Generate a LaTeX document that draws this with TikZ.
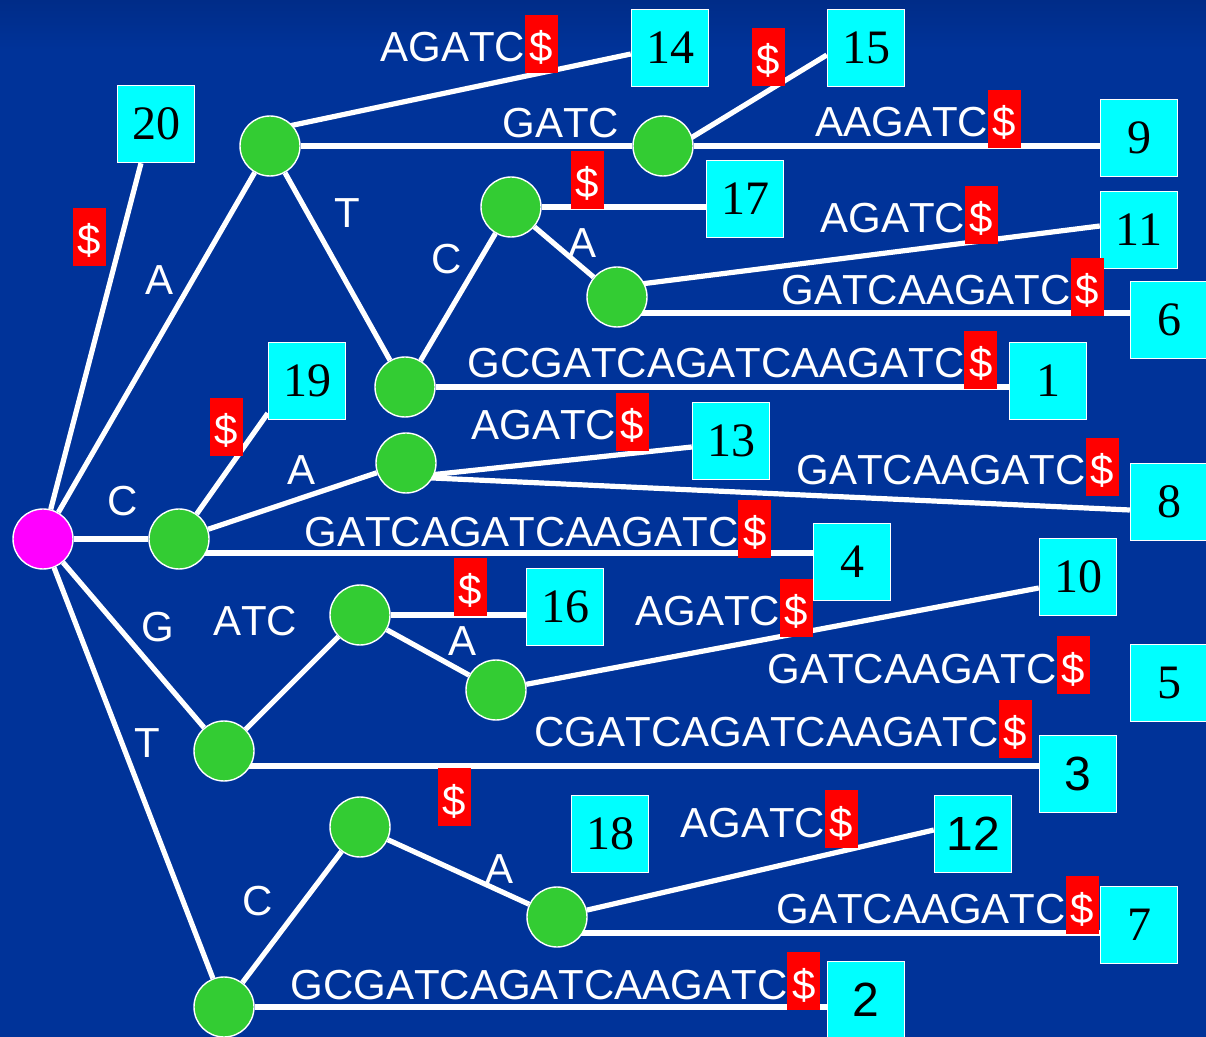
\documentclass[tikz,border=0pt]{standalone}
\usepackage{fontspec}
\newfontfamily\sansf[Kerning=Off]{Liberation Sans}
\newfontfamily\serff{Liberation Serif}
\usetikzlibrary{calc}
\definecolor{bgblue}{HTML}{003399}
\definecolor{bgtop}{HTML}{002C88}
\definecolor{nodegreen}{HTML}{33CC33}
\definecolor{rootpink}{HTML}{FF00FF}
\definecolor{leafcyan}{HTML}{00FFFF}
\definecolor{dolred}{HTML}{FF0000}
\pgfdeclarelayer{back}
\pgfdeclarelayer{edges}
\pgfsetlayers{back,edges,main}
% terminal symbol: white dollar on a red block
\newcommand\dol{{\setlength\fboxsep{0pt}\colorbox{dolred}{\makebox[16.5pt]{\rule[-5.5pt]{0pt}{29pt}\$}}}}

\begin{document}
\begin{tikzpicture}[x=0.5pt,y=-0.5pt,
  inner/.style={circle, fill=nodegreen, draw=white, line width=0.7pt, minimum size=30pt, inner sep=0pt},
  rootnode/.style={inner, fill=rootpink},
  leaf/.style={rectangle, fill=leafcyan, draw=white, line width=0.7pt, minimum size=38.5pt, inner sep=0pt, text=black, font=\serff\fontsize{24pt}{28pt}\selectfont},
  leafsans/.style={leaf, font=\sansf\fontsize{24pt}{28pt}\selectfont},
  lbl/.style={text=white, inner sep=0pt, font=\sansf\fontsize{21pt}{25pt}\selectfont},
  seq/.style={lbl, anchor=base west},
  letter/.style={lbl, anchor=base},
  edge/.style={draw=white, line width=2.6pt},
]
\useasboundingbox (0,0) rectangle (1206,1037);

\begin{pgfonlayer}{back}
  \fill[bgblue] (0,0) rectangle (1206,1037);
  \shade[top color=bgtop, bottom color=bgblue] (0,0) rectangle (1206,50);
\end{pgfonlayer}

% root and internal nodes
\node[rootnode] (r) at (43,539) {};
\node[inner] (nA)    at (270,146) {};
\node[inner] (nAG)   at (663,146) {};
\node[inner] (nAT)   at (405,387) {};
\node[inner] (nATC)  at (511,207) {};
\node[inner] (nATCA) at (617,297) {};
\node[inner] (nC)    at (179,539) {};
\node[inner] (nCA)   at (406,463) {};
\node[inner] (nG)    at (224,751) {};
\node[inner] (nGA)   at (360,615) {};
\node[inner] (nGAA)  at (496,690) {};
\node[inner] (nT)    at (224,1007) {};
\node[inner] (nTC)   at (360,827) {};
\node[inner] (nTCA)  at (557,917) {};

% leaves with suffix start positions
\node[leaf] (b20) at (156,124) {20};
\node[leaf] (b14) at (670,48) {14};
\node[leaf] (b15) at (866,48) {15};
\node[leaf] (b9)  at (1139,138) {9};
\node[leaf] (b17) at (745,199) {17};
\node[leaf] (b11) at (1139,230) {11};
\node[leaf] (b6)  at (1169,320) {6};
\node[leaf] (b1)  at (1048,381) {1};
\node[leaf] (b19) at (307,381) {19};
\node[leaf] (b13) at (731,441) {13};
\node[leaf] (b8)  at (1169,502) {8};
\node[leaf] (b4)  at (852,562) {4};
\node[leaf] (b10) at (1078,577) {10};
\node[leaf] (b16) at (565,607) {16};
\node[leaf] (b5)  at (1169,683) {5};
\node[leafsans] (b3)  at (1078,774) {3};
\node[leaf] (b18) at (610,834) {18};
\node[leafsans] (b12) at (973,834) {12};
\node[leaf] (b7)  at (1139,925) {7};
\node[leafsans] (b2)  at (866,1000) {2};

% tree edges
\begin{pgfonlayer}{edges}
  \draw[edge] (r) -- ($(b20.south)+(-15,0)$);
  \draw[edge] (r) -- (nA);
  \draw[edge] (r) -- (nC);
  \draw[edge] (r) -- (nG);
  \draw[edge] (r) -- (nT);
  \draw[edge] ($(nA)+(0,-16)$) -- ($(b14.west)+(0,6)$);
  \draw[edge] (nA) -- (nAG);
  \draw[edge] (nA) -- (nAT);
  \draw[edge] ($(nAG)+(0,9)$) -- ($(b15.west)+(0,7)$);
  \draw[edge] (nAG) -- (nAG -| b9.west);
  \draw[edge] (nAT) -- (nATC);
  \draw[edge] (nAT) -- (nAT -| b1.west);
  \draw[edge] (nATC) -- (nATC -| b17.west);
  \draw[edge] (nATC) -- (nATCA);
  \draw[edge] ($(nATCA)+(0,-10)$) -- ($(b11.west)+(0,-4)$);
  \coordinate (o6) at ($(nATCA)+(0,16)$);
  \draw[edge] (o6) -- (o6 -| b6.west);
  \draw[edge] (nC) -- ($(b19.south west)+(0,-7)$);
  \draw[edge] (nC) -- (nCA);
  \coordinate (o4) at ($(nC)+(0,14)$);
  \draw[edge] (o4) -- (o4 -| b4.west);
  \coordinate (oCA) at ($(nCA)+(5,14)$);
  \draw[edge] (oCA) -- ($(b13.west)+(0,6)$);
  \draw[edge] (oCA) -- ($(b8.west)+(0,8)$);
  \draw[edge] (nG) -- (nGA);
  \coordinate (o3) at ($(nG)+(0,15)$);
  \draw[edge] (o3) -- (o3 -| b3.west);
  \draw[edge] (nGA) -- (nGA -| b16.west);
  \draw[edge] (nGA) -- (nGAA);
  \draw[edge] (nGAA) -- ($(b10.west)+(0,11)$);
  \draw[edge] (nT) -- (nTC);
  \draw[edge] (nT) -- (nT -| b2.west);
  \draw[edge] (nTC) -- (nTCA);
  \draw[edge] (nTCA) -- ($(b12.west)+(0,-4)$);
  \coordinate (o7) at ($(nTCA)+(0,16)$);
  \draw[edge] (o7) -- (o7 -| b7.west);
\end{pgfonlayer}

% edge strings
\node[seq] (s14) at (380,62)  {AGATC\dol};
\node[seq] (sAG) at (502,138) {GATC};
\node[seq] (s9)  at (815,137) {AAGATC\dol};
\node[seq] (s11) at (820,233) {AGATC\dol};
\node[seq] (s6)  at (781,305) {GATCAAGATC\dol};
\node[seq] (s1)  at (467,378) {GCGATCAGATCAAGATC\dol};
\node[seq] (s13) at (471,440) {AGATC\dol};
\node[seq] (s8)  at (796,485) {GATCAAGATC\dol};
\node[seq] (s4)  at (304,547) {GATCAGATCAAGATC\dol};
\node[seq] (s10) at (635,626) {AGATC\dol};
\node[seq] (s5)  at (767,683) {GATCAAGATC\dol};
\node[seq] (s3)  at (534,747) {CGATCAGATCAAGATC\dol};
\node[seq] (s12) at (680,837) {AGATC\dol};
\node[seq] (s7)  at (776,923) {GATCAAGATC\dol};
\node[seq] (s2)  at (290,999) {GCGATCAGATCAAGATC\dol};

% single-letter edge labels
\node[letter] (lA)    at (160,295) {A};
\node[letter] (lAT)   at (347,228) {T};
\node[letter] (lATC)  at (447,274) {C};
\node[letter] (lATCA) at (583,258) {A};
\node[letter] (lC)    at (123,516) {C};
\node[letter] (lCA)   at (302,485) {A};
\node[letter] (lG)    at (158,642) {G};
\node[letter] (lGA)   at (255,636) {ATC};
\node[letter] (lGAA)  at (463,656) {A};
\node[letter] (lT)    at (147,757) {T};
\node[letter] (lTCA)  at (500,883) {A};
\node[letter] (lTC)   at (258,915) {C};

% lone terminal symbols
\node[lbl] (d20) at (89.5,237) {\dol};
\node[lbl] (d15) at (768,57)   {\dol};
\node[lbl] (d17) at (587,180)  {\dol};
\node[lbl] (d19) at (226,427)  {\dol};
\node[lbl] (d16) at (470,587)  {\dol};
\node[lbl] (d18) at (454,797)  {\dol};
\end{tikzpicture}
\end{document}
